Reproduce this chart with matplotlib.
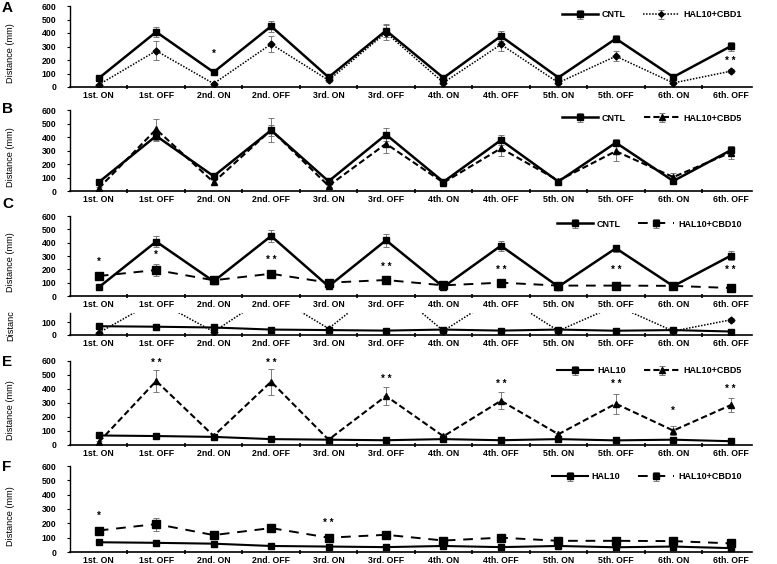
import matplotlib.pyplot as plt
import numpy as np

plt.rcParams['font.family'] = ['Liberation Sans', 'DejaVu Sans']

# data
sessions = ['1st. ON', '1st. OFF', '2nd. ON', '2nd. OFF', '3rd. ON', '3rd. OFF',
            '4th. ON', '4th. OFF', '5th. ON', '5th. OFF', '6th. ON', '6th. OFF']

cntl = [65, 408, 110, 450, 72, 418, 68, 377, 70, 358, 74, 302]
cntl_err = [10, 40, 12, 42, 10, 50, 8, 38, 8, 28, 8, 32]

hal10 = [68, 64, 58, 42, 38, 34, 42, 34, 42, 33, 38, 27]
hal10_err = [6, 5, 5, 5, 5, 5, 5, 5, 5, 5, 5, 5]

cbd1 = [17, 268, 25, 318, 50, 402, 32, 315, 32, 228, 30, 117]
cbd1_err = [8, 70, 8, 62, 10, 55, 8, 45, 8, 38, 5, 15]

cbd5 = [20, 457, 65, 452, 38, 350, 62, 316, 77, 295, 103, 285]
cbd5_err = [10, 78, 15, 92, 10, 66, 10, 60, 10, 70, 30, 50]

cbd10 = [150, 195, 118, 167, 100, 120, 80, 100, 78, 78, 76, 60]
cbd10_err = [20, 45, 15, 25, 10, 15, 10, 10, 8, 8, 8, 8]

# significance marks: (session index, y, text)
stars_a = [(2, 245, '*'), (11, 195, '* *')]
stars_c = [(0, 255, '*'), (1, 305, '*'), (3, 270, '* *'), (5, 215, '* *'),
           (7, 195, '* *'), (9, 195, '* *'), (11, 195, '* *')]
stars_e = [(1, 585, '* *'), (3, 585, '* *'), (5, 470, '* *'), (7, 435, '* *'),
           (9, 435, '* *'), (10, 245, '*'), (11, 400, '* *')]
stars_f = [(0, 255, '*'), (4, 205, '* *')]

W, H = 777, 564
fig = plt.figure(figsize=(W / 100, H / 100), dpi=100)

x = np.arange(len(sessions))
left, right = 70 / W, 752 / W


def make_ax(top_px, bot_px):
    return fig.add_axes([left, 1 - bot_px / H, right - left, (bot_px - top_px) / H])


styles = {
    'CNTL': dict(ls='-', marker='s', ms=5, lw=1.8),
    'HAL10': dict(ls='-', marker='s', ms=5, lw=1.5),
    'HAL10+CBD1': dict(ls=(0, (1, 1)), marker='D', ms=3.5, lw=1.1),
    'HAL10+CBD5': dict(ls=(0, (3, 1.5)), marker='^', ms=5, lw=1.5),
    'HAL10+CBD10': dict(ls=(0, (5, 4)), marker='s', ms=6, lw=1.4),
}


def series(ax, name, vals, err):
    st = styles[name]
    ax.errorbar(x, vals, yerr=err, color='black', ecolor='#666666', elinewidth=0.6,
                capsize=2, capthick=0.6, label=name, **st)


def style_ax(ax, ymax, yticks):
    ax.set_xlim(-0.5, 11.37)
    ax.set_ylim(0, ymax)
    for s in ['top', 'right']:
        ax.spines[s].set_visible(False)
    ax.spines['left'].set_linewidth(1.0)
    ax.spines['bottom'].set_linewidth(1.2)
    ax.set_xticks(x)
    ax.set_xticklabels(sessions, fontsize=6.3, fontweight='bold')
    ax.set_xticks(np.arange(0.5, 11, 1), minor=True)
    ax.tick_params(axis='x', which='major', length=0, pad=3)
    ax.tick_params(axis='x', which='minor', length=2.5, direction='inout', width=1.2)
    ax.set_yticks(yticks)
    ax.set_yticklabels([str(t) for t in yticks], fontsize=6.3, fontweight='bold')
    ax.tick_params(axis='y', length=2, width=0.8, pad=8)


def add_legend(ax, y_anchor):
    leg = ax.legend(loc='upper right', bbox_to_anchor=(0.99, y_anchor), ncol=2, frameon=False,
                    fontsize=6.5, handlelength=4.0, columnspacing=2.0, handletextpad=0.4,
                    borderaxespad=0, markerscale=0.8)
    for t in leg.get_texts():
        t.set_fontweight('bold')


def add_stars(ax, marks):
    for i, y, s in marks:
        ax.text(i, y, s, ha='center', va='center', fontsize=7, fontweight='bold')


def ylab(ax, text='Distance (mm)'):
    ax.set_ylabel(text, fontsize=6.6, labelpad=6)


yt = [0, 100, 200, 300, 400, 500, 600]

# A
axA = make_ax(6, 87)
series(axA, 'CNTL', cntl, cntl_err)
series(axA, 'HAL10+CBD1', cbd1, cbd1_err)
style_ax(axA, 600, yt)
add_legend(axA, 0.99)
add_stars(axA, stars_a)
ylab(axA)

# B
axB = make_ax(110, 191)
series(axB, 'CNTL', cntl, cntl_err)
series(axB, 'HAL10+CBD5', cbd5, cbd5_err)
style_ax(axB, 600, yt)
add_legend(axB, 1.0)
ylab(axB)

# C
axC = make_ax(216, 296)
series(axC, 'CNTL', cntl, cntl_err)
series(axC, 'HAL10+CBD10', cbd10, cbd10_err)
style_ax(axC, 600, yt)
add_legend(axC, 1.0)
add_stars(axC, stars_c)
ylab(axC)

# D (cropped panel)
axD = make_ax(313, 335)
series(axD, 'HAL10', hal10, hal10_err)
series(axD, 'HAL10+CBD1', cbd1, cbd1_err)
style_ax(axD, 170, [0, 100])
ylab(axD, 'Distanc')

# E
axE = make_ax(361, 445)
series(axE, 'HAL10', hal10, hal10_err)
series(axE, 'HAL10+CBD5', cbd5, cbd5_err)
style_ax(axE, 600, yt)
add_legend(axE, 0.98)
add_stars(axE, stars_e)
ylab(axE)

# F
axF = make_ax(466, 552)
series(axF, 'HAL10', hal10, hal10_err)
series(axF, 'HAL10+CBD10', cbd10, cbd10_err)
style_ax(axF, 600, yt)
add_legend(axF, 0.97)
add_stars(axF, stars_f)
ylab(axF)

# panel letters
for letter, ypx in [('A', 8), ('B', 109), ('C', 204), ('E', 362), ('F', 467)]:
    fig.text(2 / W, 1 - ypx / H, letter, fontsize=11, fontweight='bold', va='center', ha='left')

# align y labels
for ax in [axA, axB, axC, axD, axE, axF]:
    ax.yaxis.set_label_coords(-0.08, 0.42)

fig.savefig('out.png', dpi=100)
